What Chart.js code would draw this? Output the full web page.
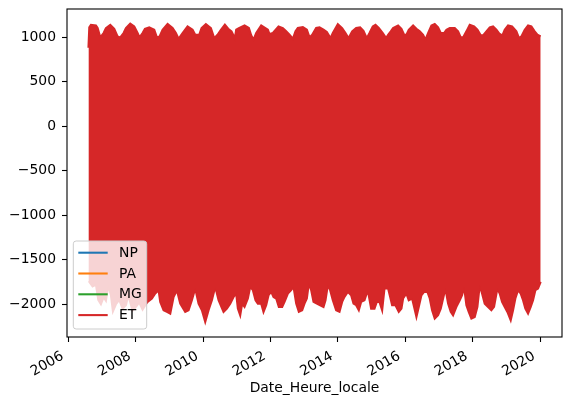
<!DOCTYPE html>
<html>
<head>
<meta charset="utf-8">
<script src="https://cdn.jsdelivr.net/npm/chart.js@4.4.1/dist/chart.umd.min.js"></script>
<style>
  html, body { margin: 0; padding: 0; background: #fff; }
  #wrap { width: 572px; height: 405px; position: relative; }
</style>
</head>
<body>
<div id="wrap"><canvas id="c" width="572" height="405"></canvas></div>
<script>
// ---- Data ----
const seriesNames = ['NP', 'PA', 'MG', 'ET'];
// NP, PA and MG are entirely hidden behind ET in the reference: nothing readable.
const npValues = [];
const paValues = [];
const mgValues = [];

// ET: upper envelope of the dense (hourly) signal, decimal year / value
const etUpperDates = [2006.59,2006.615,2006.664,2006.812,2006.862,2006.941,2007.04,2007.109,2007.238,2007.356,2007.455,2007.535,2007.633,2007.703,2007.831,2007.95,2008.049,2008.108,2008.197,2008.267,2008.395,2008.544,2008.623,2008.702,2008.791,2008.94,2009.088,2009.187,2009.266,2009.385,2009.533,2009.682,2009.761,2009.879,2009.949,2010.077,2010.226,2010.325,2010.424,2010.523,2010.641,2010.74,2010.839,2010.938,2010.978,2011.057,2011.225,2011.354,2011.423,2011.492,2011.572,2011.72,2011.918,2011.967,2012.066,2012.235,2012.363,2012.462,2012.561,2012.66,2012.739,2012.808,2012.957,2013.076,2013.155,2013.234,2013.352,2013.452,2013.57,2013.669,2013.778,2013.847,2013.996,2014.124,2014.223,2014.312,2014.421,2014.54,2014.659,2014.757,2014.856,2014.936,2015.034,2015.114,2015.212,2015.331,2015.43,2015.489,2015.568,2015.637,2015.786,2015.885,2015.964,2016.033,2016.102,2016.231,2016.33,2016.429,2016.528,2016.597,2016.676,2016.775,2016.874,2016.973,2017.052,2017.151,2017.221,2017.319,2017.468,2017.567,2017.646,2017.715,2017.814,2017.913,2018.042,2018.141,2018.24,2018.309,2018.408,2018.507,2018.606,2018.705,2018.803,2018.883,2018.952,2019.051,2019.17,2019.298,2019.377,2019.447,2019.546,2019.645,2019.743,2019.842,2019.922,2020.02];
const etUpperValues = [880,1108,1138,1130,1101,996,1045,1101,1138,1093,1007,996,1045,1101,1150,1119,1045,996,1045,1093,1108,1082,996,1007,1082,1146,1101,1045,981,1045,1119,1082,1026,1026,1101,1146,1101,988,1026,1082,1138,1093,1064,988,1082,1101,1130,1101,1019,970,1045,1130,1082,1034,1045,1119,1101,1064,1026,981,1064,1101,1112,1082,996,1026,1101,1108,1082,1056,988,1045,1146,1101,1045,988,1064,1101,1108,1071,988,1045,1119,1138,1101,1045,988,1026,1064,1101,1130,1093,1026,1026,1082,1130,1093,1064,1026,970,1045,1130,1146,1108,1045,1045,1082,1101,1101,1064,996,996,1064,1138,1119,1082,1019,1019,1064,1108,1119,1082,1034,1019,1082,1130,1119,1064,988,1007,1082,1130,1119,1064,1026,1007];

// ET: lower envelope
const etLowerDates = [2006.59,2006.614,2006.713,2006.812,2006.882,2006.96,2007.04,2007.109,2007.178,2007.258,2007.317,2007.406,2007.505,2007.604,2007.703,2007.772,2007.9,2008.0,2008.1,2008.198,2008.296,2008.346,2008.475,2008.574,2008.673,2008.722,2008.821,2008.92,2009.019,2009.118,2009.217,2009.316,2009.464,2009.563,2009.662,2009.761,2009.86,2009.959,2010.058,2010.157,2010.256,2010.355,2010.454,2010.602,2010.701,2010.8,2010.899,2010.978,2011.027,2011.097,2011.156,2011.225,2011.324,2011.394,2011.473,2011.552,2011.621,2011.72,2011.789,2011.868,2011.938,2012.017,2012.086,2012.165,2012.244,2012.343,2012.413,2012.512,2012.61,2012.68,2012.759,2012.838,2012.937,2013.006,2013.076,2013.135,2013.204,2013.273,2013.372,2013.471,2013.57,2013.63,2013.699,2013.768,2013.847,2013.946,2014.045,2014.124,2014.194,2014.292,2014.391,2014.461,2014.54,2014.619,2014.688,2014.787,2014.886,2014.985,2015.084,2015.153,2015.232,2015.312,2015.381,2015.489,2015.538,2015.608,2015.707,2015.806,2015.885,2015.934,2016.033,2016.102,2016.201,2016.261,2016.33,2016.399,2016.478,2016.558,2016.656,2016.726,2016.795,2016.874,2016.973,2017.052,2017.122,2017.191,2017.27,2017.349,2017.418,2017.517,2017.616,2017.685,2017.745,2017.814,2017.883,2017.962,2018.061,2018.141,2018.21,2018.279,2018.358,2018.457,2018.556,2018.635,2018.734,2018.803,2018.873,2018.952,2019.031,2019.13,2019.199,2019.268,2019.348,2019.427,2019.496,2019.565,2019.645,2019.724,2019.793,2019.862,2019.941,2020.02];
const etLowerValues = [-1750,-1750,-1800,-1780,-1950,-2000,-1920,-1960,-1790,-1900,-2080,-2000,-1950,-2050,-2010,-1900,-2070,-2030,-1980,-2060,-2000,-1974,-1936,-1880,-1843,-1974,-2068,-2086,-2105,-1918,-1843,-1993,-2086,-2068,-1955,-1824,-1993,-2068,-2199,-2068,-1955,-1805,-1955,-2086,-2049,-1993,-1918,-1880,-2049,-2124,-1993,-2030,-1936,-1805,-1842,-1955,-1993,-1993,-2086,-2011,-1899,-1861,-1918,-1936,-2030,-2030,-1974,-1880,-1842,-1805,-1993,-2086,-2068,-1993,-1936,-1767,-1842,-1974,-1993,-2011,-2030,-1955,-1786,-1842,-1955,-2068,-2086,-1974,-1918,-1861,-1899,-1993,-2011,-2068,-1974,-1955,-1842,-2049,-2049,-1974,-1974,-2068,-1824,-1824,-1899,-2011,-2011,-2086,-2049,-1936,-1880,-1955,-1936,-2030,-2143,-2030,-1899,-1861,-1861,-1936,-2068,-2161,-2124,-2049,-1936,-1824,-1993,-2086,-2124,-2030,-1955,-1899,-1805,-2011,-2086,-2161,-2143,-2030,-1786,-1880,-1993,-2030,-2068,-2030,-1824,-1880,-1974,-2030,-2086,-2180,-2068,-1936,-1842,-1880,-1955,-2049,-2105,-2030,-1955,-1842,-1824,-1750];

const xTicks = [2006, 2008, 2010, 2012, 2014, 2016, 2018, 2020];
const yTicks = [-2000, -1500, -1000, -500, 0, 500, 1000];
const xLabel = 'Date_Heure_locale';

const colors = ['#1f77b4', '#ff7f0e', '#2ca02c', '#d62728'];

// ---- Build ----
const toXY = (xs, ys) => xs.map((x, i) => ({ x: x, y: ys[i] }));
const FONT = 'DejaVu Sans';
const FS = 13.9;
Chart.defaults.font.family = FONT;
Chart.defaults.font.size = FS;
Chart.defaults.color = '#000';

const mplLegend = {
  id: 'mplLegend',
  afterDraw(chart) {
    const ctx = chart.ctx;
    const a = chart.chartArea;
    ctx.save();
    // axes frame (spines)
    ctx.strokeStyle = '#000';
    ctx.lineWidth = 1.1;
    ctx.strokeRect(a.left, a.top, a.right - a.left, a.bottom - a.top);
    // legend box
    const x0 = 73.3, y0 = 241, x1 = 146.7, y1 = 329, r = 2.8;
    ctx.beginPath();
    ctx.moveTo(x0 + r, y0);
    ctx.lineTo(x1 - r, y0); ctx.quadraticCurveTo(x1, y0, x1, y0 + r);
    ctx.lineTo(x1, y1 - r); ctx.quadraticCurveTo(x1, y1, x1 - r, y1);
    ctx.lineTo(x0 + r, y1); ctx.quadraticCurveTo(x0, y1, x0, y1 - r);
    ctx.lineTo(x0, y0 + r); ctx.quadraticCurveTo(x0, y0, x0 + r, y0);
    ctx.closePath();
    ctx.fillStyle = 'rgba(255,255,255,0.8)';
    ctx.fill();
    ctx.strokeStyle = '#cccccc';
    ctx.lineWidth = 1;
    ctx.stroke();
    ctx.font = FS + 'px "' + FONT + '"';
    ctx.textBaseline = 'middle';
    ctx.textAlign = 'left';
    seriesNames.forEach((name, i) => {
      const y = 252.7 + i * 20.8;
      ctx.strokeStyle = colors[i];
      ctx.lineWidth = 2.08;
      ctx.beginPath();
      ctx.moveTo(78.3, y); ctx.lineTo(107.7, y);
      ctx.stroke();
      ctx.fillStyle = '#000';
      ctx.fillText(name, 119, y + 0.5);
    });
    ctx.restore();
  }
};

const lineCommon = { pointRadius: 0, borderWidth: 2.08, tension: 0, fill: false, spanGaps: true };

new Chart(document.getElementById('c'), {
  type: 'line',
  data: {
    datasets: [
      Object.assign({ label: seriesNames[0], data: npValues, borderColor: colors[0], order: 3 }, lineCommon),
      Object.assign({ label: seriesNames[1], data: paValues, borderColor: colors[1], order: 2 }, lineCommon),
      Object.assign({ label: seriesNames[2], data: mgValues, borderColor: colors[2], order: 1 }, lineCommon),
      Object.assign({}, lineCommon, { label: seriesNames[3], data: toXY(etUpperDates, etUpperValues), borderColor: colors[3],
        backgroundColor: colors[3], fill: { target: 4 }, order: 0 }),
      Object.assign({}, lineCommon, { label: '', data: toXY(etLowerDates, etLowerValues), borderColor: colors[3], order: 0 })
    ]
  },
  options: {
    responsive: false,
    animation: false,
    events: [],
    layout: { padding: { top: 9, right: 10, left: 0, bottom: 0 } },
    plugins: { legend: { display: false }, tooltip: { enabled: false } },
    scales: {
      x: {
        type: 'linear',
        min: 2005.953, max: 2020.653,
        afterBuildTicks: s => { s.ticks = xTicks.map(v => ({ value: v })); },
        afterFit: s => { s.height = 68; s.paddingLeft = 0; s.paddingRight = 0; },
        grid: { drawOnChartArea: false, tickLength: 5, tickColor: '#000', tickWidth: 1.1 },
        border: { display: false },
        ticks: { minRotation: 30, maxRotation: 30, padding: 6, labelOffset: -6, callback: v => String(v) },
        title: { display: true, text: xLabel, padding: { top: 0, bottom: 8 } }
      },
      y: {
        min: -2368, max: 1315,
        afterBuildTicks: s => { s.ticks = yTicks.map(v => ({ value: v })); },
        afterFit: s => { s.width = 67; s.paddingTop = 0; s.paddingBottom = 0; },
        grid: { drawOnChartArea: false, tickLength: 5, tickColor: '#000', tickWidth: 1.1 },
        border: { display: false },
        ticks: { padding: 6, callback: v => (v < 0 ? '\u2212' + Math.abs(v) : String(v)) }
      }
    }
  },
  plugins: [mplLegend]
});
</script>
</body>
</html>
